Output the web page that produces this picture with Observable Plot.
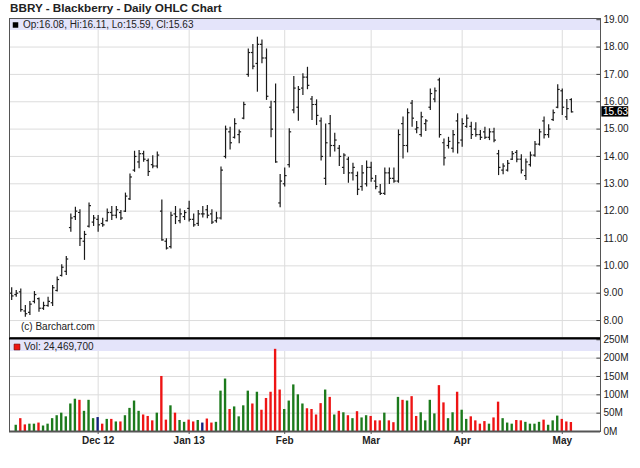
<!DOCTYPE html>
<html><head><meta charset="utf-8">
<script src="https://cdn.jsdelivr.net/npm/d3@7"></script>
<script src="https://cdn.jsdelivr.net/npm/@observablehq/plot@0.6"></script>
<style>
body{margin:0;background:#fff;font-family:"Liberation Sans",Arial,sans-serif;}
#wrap{position:relative;width:640px;height:468px;overflow:hidden;background:#fff;}
#price{position:absolute;left:0;top:0;}
#vol{position:absolute;left:0;top:337px;}
#title{position:absolute;left:10px;top:1px;font-weight:bold;font-size:11.7px;color:#222;}
</style></head><body>
<div id="wrap"><div id="price"></div><div id="vol"></div><div id="title">BBRY - Blackberry - Daily OHLC Chart</div></div>
<script>
// Daily OHLC values, one per trading day (index 0 = first bar, Nov 2012)
const open = [9.00,8.95,9.05,8.35,8.30,8.70,8.80,8.45,8.55,8.65,
 9.10,9.65,9.80,11.40,11.80,11.95,10.90,11.45,11.60,11.70,
 11.55,11.65,11.95,11.85,11.95,12.00,12.45,13.50,13.80,14.10,
 13.85,13.70,13.65,12.00,10.90,10.70,11.90,11.65,11.80,12.10,
 11.70,11.55,11.90,12.05,11.90,11.65,11.75,14.00,14.90,14.70,
 14.80,15.40,17.00,17.80,17.40,18.10,17.60,15.80,16.00,12.30,
 13.00,13.70,15.70,15.80,16.50,16.90,16.10,15.90,15.30,13.20,
 15.20,14.40,14.30,13.60,13.90,13.40,13.30,12.90,13.00,13.60,
 13.10,12.70,12.65,13.40,13.20,13.10,15.20,14.40,15.95,15.00,
 14.80,15.20,15.80,16.10,16.80,14.50,14.40,14.30,15.30,14.60,
 15.10,15.10,15.00,14.80,14.90,14.70,14.90,14.10,13.50,13.50,
 13.90,14.15,13.90,13.30,13.70,14.05,14.45,15.30,14.80,15.35,
 15.80,16.40,15.45,16.08];
const high = [9.20,9.10,9.15,8.55,8.70,9.06,8.82,8.67,8.85,9.28,
 9.59,10.04,10.34,11.90,12.14,12.05,11.26,12.30,11.84,11.84,
 11.74,12.08,12.17,12.17,12.02,12.66,13.36,14.19,14.22,14.19,
 13.91,14.03,14.16,12.41,10.99,11.96,12.17,12.08,12.02,12.36,
 11.90,12.02,12.17,12.21,12.05,11.96,13.61,15.11,15.07,15.38,
 14.97,15.98,17.93,18.09,18.36,18.26,17.93,16.02,16.65,13.34,
 13.58,15.01,16.92,16.56,17.02,17.26,16.19,16.07,15.41,15.19,
 15.50,14.85,14.40,14.10,13.97,13.75,13.43,13.67,13.83,13.79,
 13.30,12.97,13.58,13.58,13.58,14.97,15.44,15.74,16.05,15.28,
 15.62,15.35,16.47,16.50,16.86,14.64,14.70,14.95,15.56,15.38,
 15.52,15.25,15.23,14.95,15.07,15.01,15.03,14.22,13.73,13.85,
 14.18,14.22,14.06,13.91,14.16,14.55,14.99,15.44,15.16,15.70,
 16.62,16.47,16.08,16.11];
const low = [8.73,8.85,8.30,8.12,8.18,8.61,8.30,8.37,8.49,8.51,
 9.04,9.59,9.65,11.23,11.66,10.71,10.20,11.38,11.44,11.23,
 11.41,11.60,11.66,11.72,11.66,11.95,12.39,13.42,13.55,13.79,
 13.27,13.55,13.55,10.90,10.58,10.62,11.51,11.54,11.66,11.60,
 11.41,11.44,11.75,11.72,11.51,11.56,11.68,13.91,14.24,14.64,
 14.46,15.34,16.90,17.17,16.35,17.39,16.05,14.68,13.75,12.12,
 12.88,13.58,15.56,15.29,16.23,16.44,15.31,15.13,13.83,12.94,
 13.97,14.16,13.63,13.34,13.02,13.10,12.57,12.73,12.88,13.06,
 12.78,12.57,12.57,12.97,13.02,13.02,13.91,14.13,15.07,14.83,
 14.70,14.91,15.68,15.96,14.67,13.65,14.27,14.13,14.09,14.34,
 15.03,14.62,14.70,14.58,14.62,14.58,14.50,13.30,13.33,13.43,
 13.85,13.77,13.36,13.12,13.61,13.97,14.38,14.64,14.67,15.28,
 15.74,15.50,15.31,15.59];
const close = [8.90,9.00,8.40,8.25,8.60,8.95,8.45,8.55,8.70,9.20,
 9.50,9.95,10.25,11.75,12.00,11.00,11.15,12.20,11.75,11.50,
 11.50,11.95,11.85,12.05,11.75,12.55,13.25,14.00,14.10,13.90,
 13.45,13.65,14.05,10.95,10.65,11.85,11.80,11.90,11.95,11.70,
 11.50,11.90,11.90,11.85,11.60,11.75,13.50,15.00,14.50,15.20,
 14.90,15.90,17.80,17.30,18.10,17.60,16.20,15.00,13.80,13.10,
 13.30,14.90,16.50,16.45,16.90,16.60,15.90,15.50,14.00,14.50,
 14.40,14.60,14.00,14.05,13.40,13.60,12.80,13.40,13.60,13.20,
 12.90,12.65,13.40,13.20,13.10,14.80,14.40,15.60,15.40,15.05,
 15.45,15.30,16.30,16.40,14.80,13.95,14.55,14.80,14.50,15.20,
 15.40,14.80,14.80,14.70,14.70,14.90,14.60,13.60,13.65,13.75,
 14.10,13.90,13.50,13.80,14.05,14.45,14.90,14.80,15.00,15.60,
 16.45,15.80,15.75,15.63];
// Volume in millions of shares
const volume = [null,17,35,18,20,20,23,15,20,35,
 43,50,40,75,88,85,55,85,35,38,
 20,33,33,26,26,43,63,83,55,45,
 41,29,50,150,31,70,50,30,25,31,
 26,30,23,34,23,25,110,143,60,67,
 40,70,110,75,107,58,90,107,224,113,
 60,83,127,100,75,62,60,45,76,113,
 93,45,55,51,43,35,54,37,43,41,
 29,29,50,29,24,93,85,83,95,41,
 51,29,85,48,125,78,35,51,107,58,
 33,40,29,20,27,20,37,80,35,23,
 20,30,29,25,20,20,25,31,17,29,
 42,33,26,24.4697];
// Volume bar direction: u = up (green), d = down (red), n = unchanged (blue)
const volDir = ["u","u","d","d","u","u","d","u","u","u",
 "u","u","u","u","u","d","u","u","u","n",
 "d","u","d","u","d","u","u","u","u","d",
 "d","d","u","d","d","u","d","u","u","d",
 "d","u","n","d","d","u","u","u","d","u",
 "u","u","u","d","u","d","d","d","d","d",
 "u","u","u","u","u","d","d","d","d","u",
 "d","u","d","u","d","u","d","u","u","d",
 "d","d","u","d","d","u","d","u","d","d",
 "u","u","u","u","d","d","u","u","d","u",
 "u","d","d","d","d","u","d","d","u","u",
 "u","d","d","u","u","u","u","d","u","u",
 "u","d","d","d"];
const monthIdx = [19,39,60,79,99,121];
const monthLabels = ["Dec 12","Jan 13","Feb","Mar","Apr","May"];
const priceTicks = [8,9,10,11,12,13,14,15,16,17,18,19];
const volTicks = [0,50,100,150,200,250];
const legendPrice = "Op:16.08, Hi:16.11, Lo:15.59, Cl:15.63";
const legendVol = "Vol: 24,469,700";
const lastClose = 15.63;
const credit = "(c) Barchart.com";

const data = open.map((o,i)=>({i, open:o, high:high[i], low:low[i], close:close[i], vol:volume[i], dir:volDir[i]}));
const xDomain = [-0.48, 129.4];
const yDomain = [7.38, 19.044];
const bandBottom = 18.605;
const font = {fontFamily:"'Liberation Sans', Arial, sans-serif", fontSize:"10px", background:"transparent", color:"#222", overflow:"visible"};

const pricePlot = Plot.plot({
  width:640, height:338, marginLeft:9, marginRight:40, marginTop:18, marginBottom:1,
  style:font,
  x:{domain:xDomain, axis:null},
  y:{domain:yDomain, axis:null, label:null},
  marks:[
    Plot.ruleY(priceTicks, {stroke:"#dcdcdc"}),
    Plot.ruleX(monthIdx, {stroke:"#dcdcdc"}),
    Plot.rect([0], {x1:xDomain[0], x2:xDomain[1], y1:bandBottom, y2:yDomain[1], fill:"#e4e4fa"}),
    Plot.ruleX(data, {x:"i", y1:"low", y2:"high", stroke:"#1a1a1a", strokeWidth:1.2}),
    Plot.link(data, {x1:d=>d.i-0.42, x2:"i", y1:"open", y2:"open", stroke:"#1a1a1a", strokeWidth:1.2}),
    Plot.link(data, {x1:"i", x2:d=>d.i+0.42, y1:"close", y2:"close", stroke:"#1a1a1a", strokeWidth:1.2}),
    Plot.ruleY(priceTicks, {x1:xDomain[1]-0.8, x2:xDomain[1], stroke:"#444"}),
    Plot.axisY(priceTicks, {anchor:"right", label:null, tickSize:0, tickPadding:3, tickFormat:d=>d.toFixed(2), fontSize:10, fill:"#222"}),
    Plot.rect([lastClose], {x1:xDomain[1]+0.3, x2:xDomain[1]+6.2, y1:d=>d-0.19, y2:d=>d+0.19, fill:"#000"}),
    Plot.text([lastClose], {x:xDomain[1]+0.55, y:d=>d, text:d=>d.toFixed(2), textAnchor:"start", fill:"#fff", fontSize:10}),
    Plot.dot([0], {frameAnchor:"top-left", dx:6, dy:6.5, symbol:"square", r:3.1, fill:"#000"}),
    Plot.text([legendPrice], {frameAnchor:"top-left", dx:13.5, dy:6.5, textAnchor:"start", lineAnchor:"middle", fontSize:10, fill:"#222"}),
    Plot.text([credit], {frameAnchor:"bottom-left", dx:11.5, dy:-11, textAnchor:"start", lineAnchor:"middle", fontSize:10, fill:"#222"}),
    Plot.frame({stroke:"#555"})
  ]
});
document.getElementById("price").appendChild(pricePlot);

const colors = {u:"#1c7a1c", d:"#ee1414", n:"#14217f"};
const volData = data.filter(d=>d.vol!=null);
const volPlot = Plot.plot({
  width:640, height:131, marginLeft:9, marginRight:40, marginTop:1, marginBottom:37,
  style:font,
  x:{domain:xDomain, axis:null, label:null},
  y:{domain:[0,253.5], axis:null, label:null},
  marks:[
    Plot.ruleY(volTicks, {stroke:"#dcdcdc"}),
    Plot.ruleX(monthIdx, {stroke:"#dcdcdc"}),
    Plot.rect([0], {x1:xDomain[0], x2:xDomain[1], y1:218, y2:253.5, fill:"#e4e4fa"}),
    ...["u","d","n"].map(k => Plot.rectY(volData.filter(d=>d.dir===k), {x1:d=>d.i-0.26, x2:d=>d.i+0.26, y1:0, y2:"vol", fill:colors[k]})),
    Plot.ruleY(volTicks, {x1:xDomain[1]-0.8, x2:xDomain[1], stroke:"#444"}),
    Plot.axisY(volTicks, {anchor:"right", label:null, tickSize:0, tickPadding:3, tickFormat:d=>d+"M", fontSize:10, fill:"#222"}),
    Plot.axisX(monthIdx, {label:null, tickSize:3, tickPadding:2, tickFormat:(d,k)=>monthLabels[k], fontWeight:"bold", fontSize:10, fill:"#222", stroke:"#555"}),
    Plot.dot([0], {frameAnchor:"top-left", dx:7.5, dy:8.5, symbol:"square", r:3.3, fill:"#ee1414", stroke:"#600", strokeWidth:0.6}),
    Plot.text([legendVol], {frameAnchor:"top-left", dx:14.5, dy:8.5, textAnchor:"start", lineAnchor:"middle", fontSize:10, fill:"#222"}),
    Plot.frame({stroke:"#555"}),
    Plot.ruleY([0], {stroke:"#555", strokeWidth:2}),
    Plot.ruleY([253.5], {stroke:"#000", strokeWidth:2})
  ]
});
document.getElementById("vol").appendChild(volPlot);
</script>
</body></html>
